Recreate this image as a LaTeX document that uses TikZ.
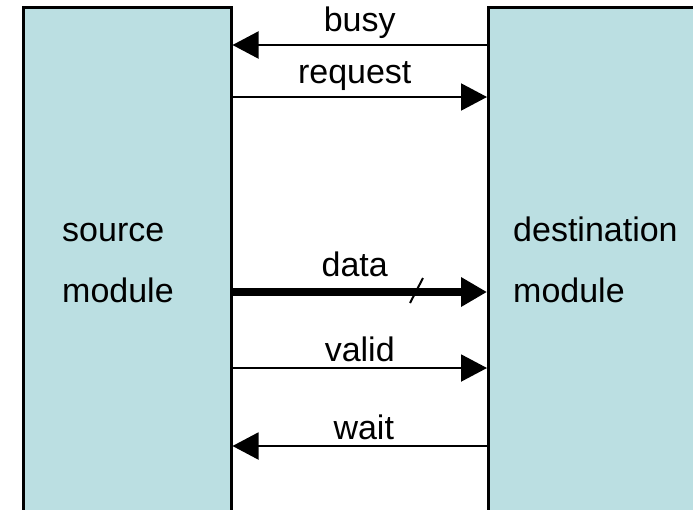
\documentclass[tikz,border=0pt]{standalone}
\usepackage{fontspec}
\setmainfont{Liberation Sans}
\usetikzlibrary{arrows.meta,calc}
\definecolor{modfill}{RGB}{187,223,226}

\begin{document}
\begin{tikzpicture}[x=1pt, y=-1pt]
  \tikzset{
    module/.style={draw, line width=2.5pt, fill=modfill, anchor=north west, inner sep=0pt},
    signal/.style={line width=2pt, -{Triangle[length=26pt, width=27pt]}},
    bus/.style={line width=8pt, -{Triangle[length=26pt, width=28pt]}},
    siglabel/.style={above=4pt, midway, inner sep=1pt},
    modlabel/.style={anchor=base west, inner sep=0pt}
  }
  \fontsize{34}{40}\selectfont

  % Frame
  \useasboundingbox (0,0) rectangle (693,509);
  \clip (0,0) rectangle (693,509);

  % Modules (they run off the page)
  \node[module, minimum width=208pt, minimum height=560pt] (src) at (22,6) {};
  \node[module, minimum width=240pt, minimum height=560pt] (dst) at (487,6) {};

  \node[modlabel] (srcA) at (62,241) {source};
  \node[modlabel] (srcB) at (62,302) {module};
  \node[modlabel] (dstA) at (513,241) {destination};
  \node[modlabel] (dstB) at (513,302) {module};

  % Handshake signals
  \draw[signal] (dst.west |- 0,45) -- (src.east |- 0,45) node[siglabel] {busy};
  \draw[signal] (src.east |- 0,97) -- (dst.west |- 0,97) node[siglabel, xshift=-5pt] {request};

  \draw[bus] (src.east |- 0,292) -- (dst.west |- 0,292) node[siglabel, above=6pt, xshift=-5pt] (data) {data};
  \draw[line width=2pt] (410,303) -- (423,278);

  \draw[signal] (src.east |- 0,368) -- (dst.west |- 0,368) node[siglabel] {valid};
  \draw[signal] (dst.west |- 0,446) -- (src.east |- 0,446) node[siglabel, xshift=4pt] {wait};

\end{tikzpicture}
\end{document}
